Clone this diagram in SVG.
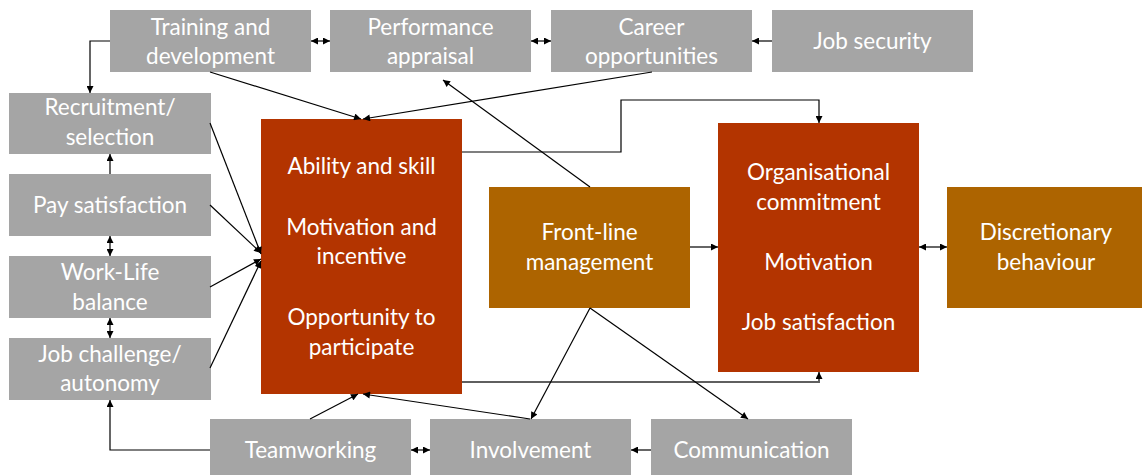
<svg xmlns="http://www.w3.org/2000/svg" width="1142" height="475" viewBox="0 0 1142 475">
<defs>
<marker id="ah" viewBox="0 0 10 10" refX="10" refY="5" markerWidth="8" markerHeight="7" markerUnits="userSpaceOnUse" orient="auto-start-reverse">
<path d="M0,0 L10,5 L0,10 z" fill="#000"/>
</marker>
</defs>
<style>
.g{fill:#a5a5a5}
.r{fill:#b33400}
.o{fill:#ad6400}
text{font-family:Lato,"Liberation Sans",sans-serif;font-size:22.5px;fill:#fff;text-anchor:middle}
.c{fill:none;stroke:#000;stroke-width:1.2}
.e{marker-end:url(#ah)}
.b{marker-start:url(#ah);marker-end:url(#ah)}
.gl{fill:none;stroke:#5f5f5f;stroke-width:2;marker-end:url(#ah)}
</style>
<rect width="1142" height="475" fill="#fff"/>
<g id="training"><rect class="g" x="110" y="10" width="201" height="62"/><text x="210.5" y="34.5">Training and</text><text x="210.5" y="63.5">development</text></g>
<g id="performance"><rect class="g" x="330" y="10" width="201" height="62"/><text x="430.5" y="34.5">Performance</text><text x="430.5" y="63.5">appraisal</text></g>
<g id="career"><rect class="g" x="551" y="10" width="201" height="62"/><text x="651.5" y="34.5">Career</text><text x="651.5" y="63.5">opportunities</text></g>
<g id="jobsecurity"><rect class="g" x="772" y="10" width="201" height="62"/><text x="872.5" y="49">Job security</text></g>
<g id="recruitment"><rect class="g" x="9" y="93" width="202" height="61"/><text x="110" y="115">Recruitment/</text><text x="110" y="145">selection</text></g>
<g id="pay"><rect class="g" x="9" y="174" width="202" height="62"/><text x="110" y="212.5">Pay satisfaction</text></g>
<g id="worklife"><rect class="g" x="9" y="256" width="202" height="62"/><text x="110" y="280">Work-Life</text><text x="110" y="309.5">balance</text></g>
<g id="jobchallenge"><rect class="g" x="9" y="338" width="202" height="62"/><text x="110" y="361.5">Job challenge/</text><text x="110" y="391">autonomy</text></g>
<g id="teamworking"><rect class="g" x="210" y="419" width="201" height="60"/><text x="310.5" y="458">Teamworking</text></g>
<g id="involvement"><rect class="g" x="430" y="419" width="201" height="60"/><text x="530.5" y="458">Involvement</text></g>
<g id="communication"><rect class="g" x="651" y="419" width="201" height="60"/><text x="751.5" y="458">Communication</text></g>
<g id="ability"><rect class="r" x="261" y="119" width="201" height="275"/><text x="361.5" y="174">Ability and skill</text><text x="361.5" y="234.5">Motivation and</text><text x="361.5" y="264">incentive</text><text x="361.5" y="325">Opportunity to</text><text x="361.5" y="355">participate</text></g>
<g id="frontline"><rect class="o" x="489" y="187" width="201" height="121"/><text x="589.5" y="240">Front-line</text><text x="589.5" y="269.5">management</text></g>
<g id="organisational"><rect class="r" x="718" y="123" width="201" height="249"/><text x="818.5" y="180">Organisational</text><text x="818.5" y="210">commitment</text><text x="818.5" y="270">Motivation</text><text x="818.5" y="330">Job satisfaction</text></g>
<g id="discretionary"><rect class="o" x="947" y="187" width="201" height="121"/><text x="1046" y="240">Discretionary</text><text x="1046" y="269.5">behaviour</text></g>
<g id="connectors">
<path class="c e" d="M110,41 H90 V93"/>
<path class="c b" d="M311,41 H330"/>
<path class="c b" d="M531,41 H551"/>
<path class="c e" d="M772,41 H752"/>
<path class="c e" d="M210,72 L361,119"/>
<path class="c e" d="M652,72 L363,119"/>
<path class="c e" d="M590,187 L443,80"/>
<path class="c e" d="M462,152 H621 V100 H819 V123"/>
<path class="c e" d="M690,247 H718"/>
<path class="c b" d="M919,247 H947"/>
<path class="gl" d="M462,382 H819 V372"/>
<path class="c e" d="M590,308 L531,419"/>
<path class="c e" d="M590,308 L748,419"/>
<path class="c e" d="M530,419 L363,394"/>
<path class="c e" d="M310,419 L358,394"/>
<path class="c e" d="M210,450 H110 V400"/>
<path class="c b" d="M411,450 H430"/>
<path class="c e" d="M651,450 H631"/>
<path class="c e" d="M110,174 V154"/>
<path class="c b" d="M110,236 V256"/>
<path class="c b" d="M110,318 V338"/>
<path class="c e" d="M210,123 L261,254"/>
<path class="c e" d="M210,205 L261,253"/>
<path class="c e" d="M210,287 L261,259"/>
<path class="c e" d="M210,368 L261,261"/>
</g>
</svg>
